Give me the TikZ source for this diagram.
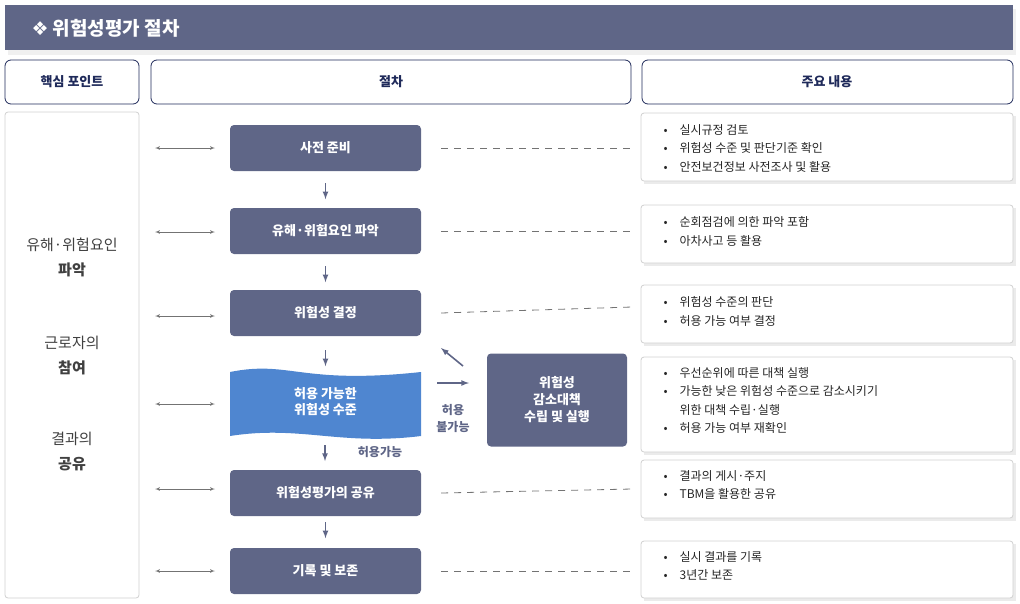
\documentclass[tikz,border=0pt]{standalone}
\usepackage{fontspec}
\setmainfont{Noto Sans CJK KR}
\newfontfamily\sym{DejaVu Sans}
\usepackage{tikz}
\usetikzlibrary{calc,arrows}
\definecolor{navy}{HTML}{5F6687}
\definecolor{hdline}{HTML}{1F2A5A}
\definecolor{wave}{HTML}{4F86D0}
\tikzset{
  stepbox/.style={fill=navy,rounded corners=4pt,text=white,font=\bfseries\fontsize{13}{15}\selectfont,align=center},
  headbox/.style={draw=hdline,rounded corners=6pt,fill=white,line width=0.8pt},
  notebox/.style={draw=black!18,rounded corners=3pt,fill=white,line width=0.8pt},
  dn/.style={-latex,draw=navy,line width=1.6pt},
  twoway/.style={latex'-latex',draw=black!55,line width=0.7pt},
  dashline/.style={draw=black!55,dash pattern=on 7pt off 6pt,line width=0.8pt},
  note/.style={anchor=north west,align=left,font=\fontsize{12}{18.5}\selectfont,text=black!85},
}
\begin{document}
\begin{tikzpicture}[x=1pt,y=-1pt]
\useasboundingbox (0,0) rectangle (1020,603);
% title
\fill[black!6] (8,9) rectangle (1016,55);
\fill[navy] (5,5) rectangle (1013,50);
\node[anchor=west,text=white,font=\bfseries\fontsize{19}{22}\selectfont] (title) at (28,28) {{\sym ❖} 위험성평가 절차};
% headers
\draw[headbox] (5,60) rectangle (139,104);
\draw[headbox] (151,60) rectangle (631,104);
\draw[headbox] (642,60) rectangle (1013,104);
\node[font=\bfseries\fontsize{13}{15}\selectfont,text=hdline] (h1) at (72,82) {핵심 포인트};
\node[font=\bfseries\fontsize{13}{15}\selectfont,text=hdline] (h2) at (391,82) {절차};
\node[font=\bfseries\fontsize{13}{15}\selectfont,text=hdline] (h3) at (827,82) {주요 내용};
% left panel
\draw[notebox] (5,112) rectangle (139,598);
\node[align=center,font=\fontsize{15}{25}\selectfont,text=black!75] (p1) at (72,257) {유해·위험요인\\{\bfseries 파악}};
\node[align=center,font=\fontsize{15}{25}\selectfont,text=black!75] (p2) at (72,356) {근로자의\\{\bfseries 참여}};
\node[align=center,font=\fontsize{15}{25}\selectfont,text=black!75] (p3) at (72,452) {결과의\\{\bfseries 공유}};
% steps
\node[stepbox,minimum width=191pt,minimum height=46pt] (s1) at (325.5,148) {사전 준비};
\node[stepbox,minimum width=191pt,minimum height=46pt] (s2) at (325.5,231) {유해·위험요인 파악};
\node[stepbox,minimum width=191pt,minimum height=46pt] (s3) at (325.5,313) {위험성 결정};
\fill[wave] (230,372) .. controls (290,360) and (300,385) .. (421,372) -- (421,436) .. controls (340,446) and (300,425) .. (230,436) -- cycle;
\node[text=white,font=\bfseries\fontsize{13}{16}\selectfont,align=center] (s4) at (325.5,402) {허용 가능한\\위험성 수준};
\coordinate (s4s) at (325,438);
\node[stepbox,minimum width=191pt,minimum height=46pt] (s5) at (325.5,493) {위험성평가의 공유};
\node[stepbox,minimum width=191pt,minimum height=46pt] (s6) at (325.5,571) {기록 및 보존};
\node[stepbox,minimum width=140pt,minimum height=93pt,font=\bfseries\fontsize{13}{17}\selectfont] (r) at (557,400) {위험성\\감소대책\\수립 및 실행};
% down arrows
\draw[dn] ($(s1.south)+(0,12)$) -- ++(0,16);
\draw[dn] ($(s2.south)+(0,12)$) -- ++(0,16);
\draw[dn] ($(s3.south)+(0,14)$) -- ++(0,16);
\draw[dn] ($(s4s)+(0,7)$) -- ++(0,16);
\draw[dn] ($(s5.south)+(0,6)$) -- ++(0,16);
\node[text=navy,font=\bfseries\fontsize{12}{14}\selectfont] (ok) at (380,452) {허용가능};
\draw[dn] (463,366) -- (441,348);
\draw[dn] (437,383) -- (469,383);
\node[text=navy,font=\bfseries\fontsize{12}{17}\selectfont,align=center] (no) at (453,418) {허용\\불가능};
% two-way arrows
\foreach \y in {148,232,316,404,489,571}
  \draw[twoway] (155,\y) -- (215,\y);
% notes
\foreach \a/\b in {113/181,205/263,285/343,357/452,460/518,541/598}{
  \fill[black!8] (644,\a+3) rectangle (1016,\b+3);
  \draw[notebox] (641,\a) rectangle (1013,\b);
}
\draw[dashline] ($(s1.east)+(20,0)$) -- (632,148);
\draw[dashline] ($(s2.east)+(20,0)$) -- (632,231);
\draw[dashline] ($(s3.east)+(20,0)$) -- (632,307);
\draw[dashline] ($(s5.east)+(20,0)$) -- (632,489);
\draw[dashline] ($(s6.east)+(20,0)$) -- (632,571);
\node[note] (n1) at (660,121) {•\quad 실시규정 검토\\•\quad 위험성 수준 및 판단기준 확인\\•\quad 안전보건정보 사전조사 및 활용};
\node[note] (n2) at (660,213) {•\quad 순회점검에 의한 파악 포함\\•\quad 아차사고 등 활용};
\node[note] (n3) at (660,293) {•\quad 위험성 수준의 판단\\•\quad 허용 가능 여부 결정};
\node[note] (n4) at (660,364) {•\quad 우선순위에 따른 대책 실행\\•\quad 가능한 낮은 위험성 수준으로 감소시키기\\\phantom{•\quad }위한 대책 수립·실행\\•\quad 허용 가능 여부 재확인};
\node[note] (n5) at (660,467) {•\quad 결과의 게시·주지\\•\quad TBM을 활용한 공유};
\node[note] (n6) at (660,548) {•\quad 실시 결과를 기록\\•\quad 3년간 보존};
\end{tikzpicture}
\end{document}
